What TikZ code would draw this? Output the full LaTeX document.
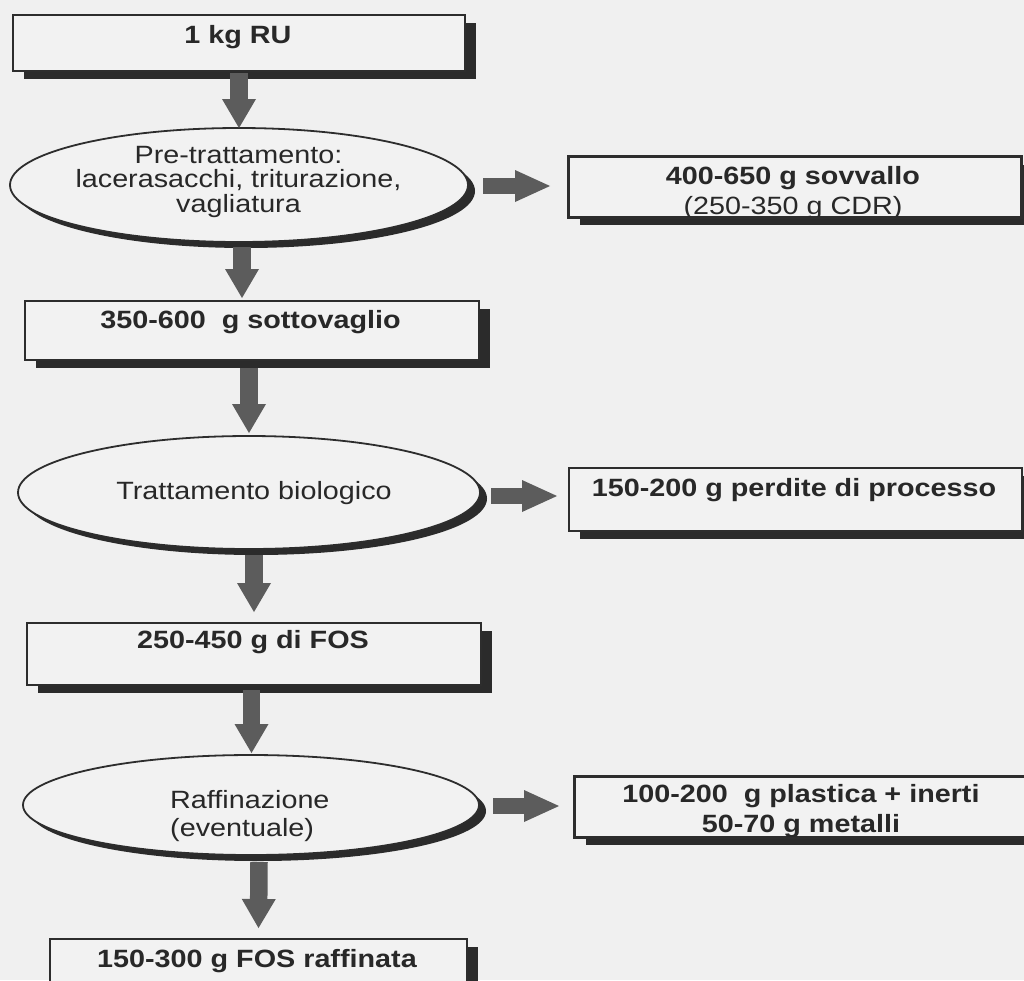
\documentclass[tikz,border=0pt]{standalone}
\usepackage{fontspec}
\setmainfont{Liberation Sans}[FakeStretch=1.15]
\usetikzlibrary{shapes.geometric,shadows,arrows.meta}
\definecolor{bgc}{RGB}{240,240,240}
\definecolor{boxc}{RGB}{242,242,242}
\definecolor{shc}{RGB}{43,43,43}
\definecolor{linec}{RGB}{45,45,45}
\definecolor{txtc}{RGB}{40,40,40}
\definecolor{arrc}{RGB}{92,92,92}
\newcommand{\fstrut}{\rule{0pt}{22pt}}
\begin{document}
\begin{tikzpicture}[x=1pt,y=-1pt,
  boxnode/.style={rectangle, draw=linec, line width=2.2pt, fill=boxc, inner sep=0pt, anchor=north west,
    drop shadow={shadow xshift=11pt, shadow yshift=-7.5pt, fill=shc, opacity=1}},
  ellnode/.style={ellipse, draw=linec, line width=1.8pt, fill=boxc, inner sep=0pt,
    drop shadow={shadow xshift=7pt, shadow yshift=-6pt, fill=shc, opacity=1}},
  bt/.style={font=\fontsize{25}{30}\selectfont\bfseries, text=txtc, inner sep=0pt, anchor=north, align=center},
  rt/.style={font=\fontsize{25}{24.5}\selectfont, text=txtc, inner sep=0pt, anchor=north, align=center},
  darr/.style={draw=arrc, line width=17.5pt, -{Triangle[width=34pt,length=29pt,line width=0pt]}},
  rarr/.style={draw=arrc, line width=16pt, -{Triangle[width=32pt,length=35pt,line width=0pt]}},
  border/.style={draw=linec, line width=2.2pt}
]
\useasboundingbox (0,0) rectangle (1024,980);
\clip (0,0) rectangle (1024,980);
\fill[bgc] (0,0) rectangle (1024,980);

% boxes
\node[boxnode, minimum width=452pt, minimum height=56pt] (b1) at (12,14) {};
\node[boxnode, minimum width=452pt, minimum height=60pt] (b2) at (568,156) {};
\node[boxnode, minimum width=454pt, minimum height=59pt] (b3) at (24,300) {};
\node[boxnode, minimum width=453pt, minimum height=63pt] (b4) at (568,467) {};
\node[boxnode, minimum width=454pt, minimum height=62pt] (b5) at (26,622) {};
\node[boxnode, minimum width=417pt, minimum height=60pt] (b6) at (49,938) {};
\node[boxnode, minimum width=456pt, minimum height=60pt] (b7) at (574,776) {};

% ellipses
\node[ellnode, minimum width=458pt, minimum height=114pt] (e1) at (239,185) {};
\node[ellnode, minimum width=462pt, minimum height=113pt] (e2) at (249,492.5) {};
\node[ellnode, minimum width=456pt, minimum height=100pt] (e3) at (251,805) {};

% arrow end points
\coordinate (a1s) at (239,73);   \coordinate (a1e) at (239,128);
\coordinate (a2s) at (242,247);  \coordinate (a2e) at (242,298);
\coordinate (a3s) at (249,368);  \coordinate (a3e) at (249,433);
\coordinate (a4s) at (254,555);  \coordinate (a4e) at (254,612);
\coordinate (a5s) at (251.5,690);\coordinate (a5e) at (251.5,753);
\coordinate (a6s) at (259,862);  \coordinate (a6e) at (258.5,928);
\coordinate (r1s) at (483,186);  \coordinate (r1e) at (550,186);
\coordinate (r2s) at (491,496);  \coordinate (r2e) at (557,496);
\coordinate (r3s) at (493,806);  \coordinate (r3e) at (559,806);

\draw[darr] (a1s) -- (a1e);
\draw[darr] (a2s) -- (a2e);
\draw[darr] (a3s) -- (a3e);
\draw[darr] (a4s) -- (a4e);
\draw[darr] (a5s) -- (a5e);
\draw[darr] (a6s) -- (a6e);
\draw[rarr] (r1s) -- (r1e);
\draw[rarr] (r2s) -- (r2e);
\draw[rarr] (r3s) -- (r3e);

% box texts
\node[bt] (b1t) at (238,21) {\fstrut 1 kg RU};
\node[bt] (b2t) at (793,162) {\fstrut 400-650 g sovvallo\\{\mdseries (250-350 g CDR)}};
\node[bt] (b3t) at (250.5,306) {\fstrut 350-600\ \ g sottovaglio};
\node[bt] (b4t) at (794,474) {\fstrut 150-200 g perdite di processo};
\node[bt] (b5t) at (253,626) {\fstrut 250-450 g di FOS};
\node[bt] (b6t) at (257,945) {\fstrut 150-300 g FOS raffinata};
\node[bt] (b7t) at (801,780) {\fstrut 100-200\ \ g plastica + inerti\\50-70 g metalli};
\draw[border] (b2.north west) rectangle (b2.south east);
\draw[border] (b7.north west) rectangle (b7.south east);

% ellipse texts
\node[rt] (e1t) at (238.5,141) {\fstrut Pre-trattamento:\\lacerasacchi, triturazione,\\vagliatura};
\node[rt] (e2t) at (254,477) {\fstrut Trattamento biologico};
\node[rt, font=\fontsize{25}{28}\selectfont, align=left, anchor=north west] (e3t) at (170,786) {\fstrut Raffinazione\\(eventuale)};
\end{tikzpicture}
\end{document}
